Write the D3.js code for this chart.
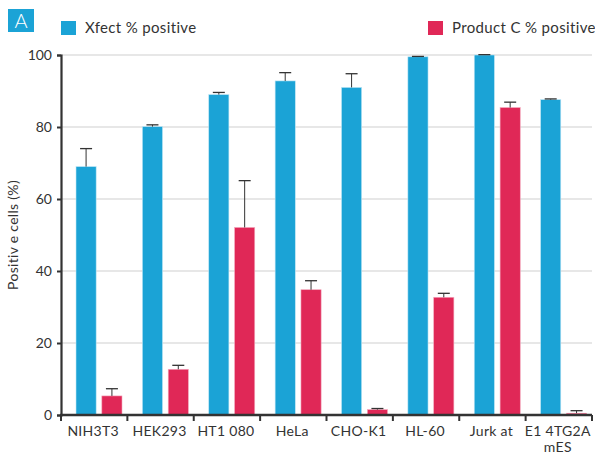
<!DOCTYPE html>
<html>
<head>
<meta charset="utf-8">
<script src="https://cdn.jsdelivr.net/npm/d3@7"></script>
<style>
  body { margin: 0; background: #fff; }
  svg text { font-family: "Lato", "Open Sans", sans-serif; fill: #333; }
</style>
</head>
<body>
<svg id="chart" width="595" height="455"></svg>
<script>
// Data
var cells = ["NIH3T3", "HEK293", "HT1 080", "HeLa", "CHO-K1", "HL-60", "Jurk at", "E1 4TG2A|mES"];
var xfect = [69, 80.1, 89, 92.8, 91, 99.5, 100, 87.6];
var xfectErr = [5, 0.5, 0.6, 2.3, 3.8, 0.1, 0.1, 0.2];
var productC = [5.3, 12.7, 52.1, 34.8, 1.5, 32.7, 85.4, 0.5];
var productCErr = [2, 1.1, 13, 2.5, 0.3, 1.1, 1.5, 0.7];
var yTicks = [0, 20, 40, 60, 80, 100];
var seriesNames = ["Xfect % positive", "Product C % positive"];
var colors = ["#1ba3d6", "#e02857"];

var svg = d3.select("#chart"),
    margin = { top: 55, right: 3, bottom: 40, left: 61 },
    width = 595 - margin.left - margin.right,
    height = 455 - margin.top - margin.bottom;

var x = d3.scaleBand().domain(cells).range([0, width]);
var y = d3.scaleLinear().domain([0, 100]).range([height, 0]);
// position of the two bars inside each band
var sub = d3.scaleBand().domain([0, 1]).range([15, 61]).paddingInner(0.22);

var g = svg.append("g")
    .attr("transform", "translate(" + margin.left + "," + margin.top + ")");

// gridlines
g.append("g")
    .selectAll("line")
    .data(yTicks.filter(function (d) { return d > 0; }))
    .enter().append("line")
    .attr("x1", 0).attr("x2", width)
    .attr("y1", function (d) { return y(d); })
    .attr("y2", function (d) { return y(d); })
    .attr("stroke", "#cfcfcf")
    .attr("stroke-width", 1.2);

// bars
var series = [
    { vals: xfect, err: xfectErr },
    { vals: productC, err: productCErr }
];

series.forEach(function (s, si) {
    var grp = g.append("g");
    grp.selectAll("rect")
        .data(cells)
        .enter().append("rect")
        .attr("x", function (d) { return x(d) + sub(si); })
        .attr("y", function (d, i) { return y(s.vals[i]); })
        .attr("width", sub.bandwidth())
        .attr("height", function (d, i) { return y(0) - y(s.vals[i]); })
        .attr("fill", colors[si])
        .attr("stroke", si == 0 ? "#bfe6f5" : "#f4a9bd")
        .attr("stroke-width", 0.6);

    // error bars (upper only)
    var eb = grp.selectAll(".err")
        .data(cells)
        .enter().append("g");
    eb.append("line")
        .attr("x1", function (d) { return x(d) + sub(si) + sub.bandwidth() / 2; })
        .attr("x2", function (d) { return x(d) + sub(si) + sub.bandwidth() / 2; })
        .attr("y1", function (d, i) { return y(s.vals[i]); })
        .attr("y2", function (d, i) { return y(s.vals[i] + s.err[i]); })
        .attr("stroke", "#333").attr("stroke-width", 1);
    eb.append("line")
        .attr("x1", function (d) { return x(d) + sub(si) + sub.bandwidth() / 2 - 6; })
        .attr("x2", function (d) { return x(d) + sub(si) + sub.bandwidth() / 2 + 6; })
        .attr("y1", function (d, i) { return y(s.vals[i] + s.err[i]); })
        .attr("y2", function (d, i) { return y(s.vals[i] + s.err[i]); })
        .attr("stroke", "#333").attr("stroke-width", 1.3);
});

// y axis
var yAxis = g.append("g")
    .call(d3.axisLeft(y).tickValues(yTicks).tickSize(4).tickPadding(5));
yAxis.select(".domain").attr("stroke", "#333").attr("stroke-width", 2.2);
yAxis.selectAll(".tick line").attr("stroke", "#333").attr("stroke-width", 2);
yAxis.selectAll("text").style("font-size", "14px").attr("fill", "#333");

// x axis: ticks at band boundaries
var xAxis = g.append("g").attr("transform", "translate(0," + height + ")");
xAxis.append("line")
    .attr("x1", -1).attr("x2", width)
    .attr("stroke", "#333").attr("stroke-width", 2.5);
xAxis.selectAll(".bt")
    .data(cells.concat(["end"]))
    .enter().append("line")
    .attr("x1", function (d, i) { return i < cells.length ? x(d) : width; })
    .attr("x2", function (d, i) { return i < cells.length ? x(d) : width; })
    .attr("y1", 0).attr("y2", 6)
    .attr("stroke", "#333").attr("stroke-width", 2);

var lbl = xAxis.selectAll(".lbl")
    .data(cells)
    .enter().append("text")
    .attr("text-anchor", "middle")
    .attr("y", 21)
    .style("font-size", "14px")
    .style("letter-spacing", "0.3px");
lbl.each(function (d) {
    var parts = d.split("|"), t = d3.select(this);
    parts.forEach(function (p, k) {
        t.append("tspan")
            .attr("x", x(d) + x.bandwidth() / 2 - 1)
            .attr("dy", k == 0 ? 0 : 16)
            .text(p);
    });
});

// y label
svg.append("text")
    .attr("transform", "translate(18," + (margin.top + height / 2) + ") rotate(-90)")
    .attr("text-anchor", "middle")
    .style("font-size", "14px")
    .style("letter-spacing", "0.3px")
    .text("Positiv e cells (%)");

// legend
var legX = [61, 428];
seriesNames.forEach(function (n, i) {
    svg.append("rect")
        .attr("x", legX[i]).attr("y", 21)
        .attr("width", 15).attr("height", 14)
        .attr("fill", colors[i]);
    svg.append("text")
        .attr("x", legX[i] + 24).attr("y", 33)
        .style("font-size", "15px")
        .style("letter-spacing", "0.35px")
        .text(n);
});

// panel badge
svg.append("rect")
    .attr("x", 8).attr("y", 9)
    .attr("width", 26).attr("height", 23)
    .attr("fill", "#1ba3d6");
svg.append("text")
    .attr("x", 21).attr("y", 28)
    .attr("text-anchor", "middle")
    .style("font-size", "20px")
    .style("font-weight", "300")
    .style("fill", "#fff")
    .text("A");
</script>
</body>
</html>
